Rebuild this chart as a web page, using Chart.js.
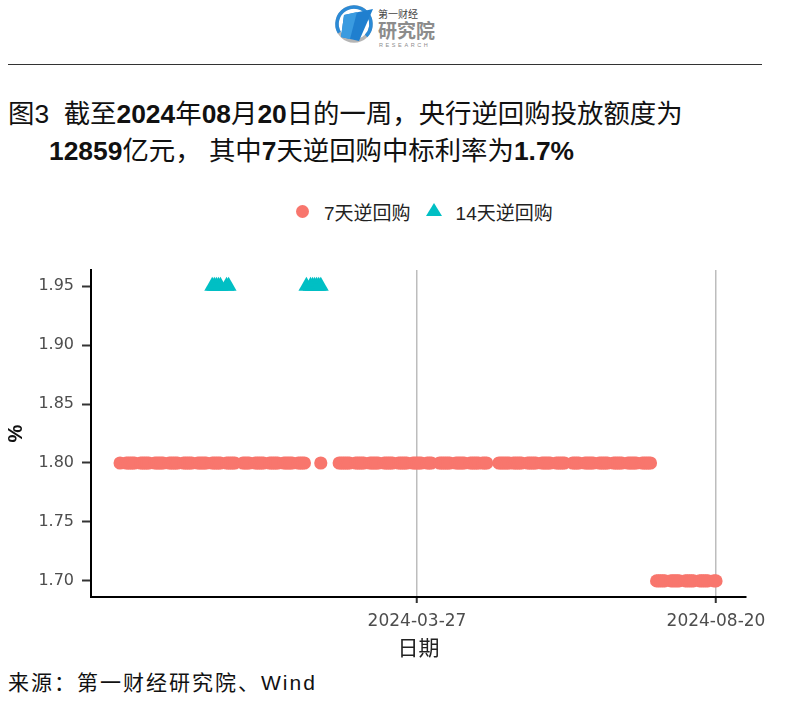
<!DOCTYPE html>
<html>
<head>
<meta charset="utf-8">
<script src="https://cdn.jsdelivr.net/npm/chart.js@4.4.1/dist/chart.umd.min.js"></script>
<style>
  html, body { margin: 0; padding: 0; background: #fff; }
  body { width: 809px; height: 704px; position: relative; overflow: hidden; }
  #logo { position: absolute; left: 330px; top: 0; }
  #rule { position: absolute; left: 8px; top: 64px; width: 754px; height: 1px; background: #333; }
  .title { position: absolute; font-family: 'Liberation Sans', 'Noto Sans CJK SC', sans-serif; font-size: 26.4px; line-height: 37px; color: #111; white-space: nowrap; }
  .title b { font-weight: bold; }
  #legend { position: absolute; left: 296px; top: 199px; height: 24px; display: flex; align-items: center;
            font-family: 'Liberation Sans', 'Noto Sans CJK SC', sans-serif; font-size: 19px; color: #222; white-space: nowrap; }
  #legend .dot { width: 13px; height: 13px; border-radius: 50%; background: #F8766D; margin-right: 15px; }
  #legend .tri { width: 0; height: 0; border-left: 8px solid transparent; border-right: 8px solid transparent;
                 border-bottom: 13px solid #00BFC4; margin: 0 14px 3px 15px; }
  #chart { position: absolute; left: 0; top: 250px; }
  #source { position: absolute; left: 8px; top: 670px; font-family: 'Liberation Sans', 'Noto Sans CJK SC', sans-serif;
            font-size: 21px; letter-spacing: 2px; line-height: 26px; color: #111; white-space: nowrap; }
</style>
</head>
<body>
<svg id="logo" width="120" height="52" viewBox="0 0 120 52">
  <circle cx="24" cy="24" r="17" fill="none" stroke="#b5b5b5" stroke-width="3.5"/>
  <circle cx="24" cy="24" r="17" fill="none" stroke="#2b8ad6" stroke-width="3.5"
          stroke-dasharray="75 32" transform="rotate(150 24 24)"/>
  <polygon points="14,15 43,9 29,41 11,37" fill="#1f7fcf"/>
  <polygon points="14,15 27,12 20,39 11,37" fill="#3a9be0"/>
  <text x="48" y="18" font-family="Noto Sans CJK SC" font-size="10" fill="#444">第一财经</text>
  <text x="48" y="38" font-family="Noto Sans CJK SC" font-size="19" font-weight="bold" fill="#8c8c8c">研究院</text>
  <text x="49" y="47" font-family="Liberation Sans" font-size="5.5" letter-spacing="2.6" fill="#8c8c8c">RESEARCH</text>
</svg>
<div id="rule"></div>
<div class="title" style="left:8px; top:96px;">图3&nbsp;&nbsp;截至<b>2024</b>年<b>08</b>月<b>20</b>日的一周，央行逆回购投放额度为</div>
<div class="title" style="left:49px; top:133px;"><b>12859</b>亿元，&nbsp;其中<b>7</b>天逆回购中标利率为<b>1.7%</b></div>
<div id="legend">
  <span class="dot"></span><span>7天逆回购</span>
  <span class="tri"></span><span>14天逆回购</span>
</div>
<canvas id="chart" width="809" height="420"></canvas>
<div id="source">来源：第一财经研究院、Wind</div>

<script>
// 7天逆回购中标利率 1.80% 的操作日
const sevenDayDates180 = [
  '2023-11-03',
  '2023-11-06', '2023-11-07', '2023-11-08', '2023-11-09', '2023-11-10',
  '2023-11-13', '2023-11-14', '2023-11-15', '2023-11-16', '2023-11-17',
  '2023-11-20', '2023-11-21', '2023-11-22', '2023-11-23', '2023-11-24',
  '2023-11-27', '2023-11-28', '2023-11-29', '2023-11-30', '2023-12-01',
  '2023-12-04', '2023-12-05', '2023-12-06', '2023-12-07', '2023-12-08',
  '2023-12-11', '2023-12-12', '2023-12-13', '2023-12-14', '2023-12-15',
  '2023-12-18', '2023-12-19', '2023-12-20', '2023-12-21', '2023-12-22',
  '2023-12-25', '2023-12-26', '2023-12-27', '2023-12-28', '2023-12-29',
  '2024-01-02', '2024-01-03', '2024-01-04', '2024-01-05',
  '2024-01-08', '2024-01-09', '2024-01-10', '2024-01-11', '2024-01-12',
  '2024-01-15', '2024-01-16', '2024-01-17', '2024-01-18', '2024-01-19',
  '2024-01-22', '2024-01-23', '2024-01-24', '2024-01-25', '2024-01-26',
  '2024-01-29', '2024-01-30', '2024-01-31', '2024-02-01',
  '2024-02-09',
  '2024-02-18', '2024-02-19', '2024-02-20', '2024-02-21', '2024-02-22', '2024-02-23',
  '2024-02-26', '2024-02-27', '2024-02-28', '2024-02-29', '2024-03-01',
  '2024-03-04', '2024-03-05', '2024-03-06', '2024-03-07', '2024-03-08',
  '2024-03-11', '2024-03-12', '2024-03-13', '2024-03-14', '2024-03-15',
  '2024-03-18', '2024-03-19', '2024-03-20', '2024-03-21', '2024-03-22',
  '2024-03-25', '2024-03-26', '2024-03-27', '2024-03-28', '2024-03-29',
  '2024-04-01', '2024-04-02', '2024-04-03',
  '2024-04-07', '2024-04-08', '2024-04-09', '2024-04-10', '2024-04-11', '2024-04-12',
  '2024-04-15', '2024-04-16', '2024-04-17', '2024-04-18', '2024-04-19',
  '2024-04-22', '2024-04-23', '2024-04-24', '2024-04-25', '2024-04-26',
  '2024-04-28', '2024-04-29', '2024-04-30',
  '2024-05-06', '2024-05-07', '2024-05-08', '2024-05-09', '2024-05-10', '2024-05-11',
  '2024-05-13', '2024-05-14', '2024-05-15', '2024-05-16', '2024-05-17',
  '2024-05-20', '2024-05-21', '2024-05-22', '2024-05-23', '2024-05-24',
  '2024-05-27', '2024-05-28', '2024-05-29', '2024-05-30', '2024-05-31',
  '2024-06-03', '2024-06-04', '2024-06-05', '2024-06-06', '2024-06-07',
  '2024-06-11', '2024-06-12', '2024-06-13', '2024-06-14',
  '2024-06-17', '2024-06-18', '2024-06-19', '2024-06-20', '2024-06-21',
  '2024-06-24', '2024-06-25', '2024-06-26', '2024-06-27', '2024-06-28',
  '2024-07-01', '2024-07-02', '2024-07-03', '2024-07-04', '2024-07-05',
  '2024-07-08', '2024-07-09', '2024-07-10', '2024-07-11', '2024-07-12',
  '2024-07-15', '2024-07-16', '2024-07-17', '2024-07-18', '2024-07-19'
];
// 7月22日降息后 1.70% 的操作日
const sevenDayDates170 = [
  '2024-07-22', '2024-07-23', '2024-07-24', '2024-07-25', '2024-07-26',
  '2024-07-29', '2024-07-30', '2024-07-31', '2024-08-01', '2024-08-02',
  '2024-08-05', '2024-08-06', '2024-08-07', '2024-08-08', '2024-08-09',
  '2024-08-12', '2024-08-13', '2024-08-14', '2024-08-15', '2024-08-16',
  '2024-08-19', '2024-08-20'
];
// 14天逆回购操作日（跨年、春节前）
const fourteenDayDates = [
  '2023-12-18', '2023-12-19', '2023-12-20', '2023-12-21', '2023-12-22', '2023-12-25', '2023-12-26',
  '2024-02-02', '2024-02-04', '2024-02-05', '2024-02-06', '2024-02-07', '2024-02-08', '2024-02-09'
];
const sevenDayRateBefore = 1.80;
const sevenDayRateAfter = 1.70;
const fourteenDayRate = 1.95;

const xTickDates = ['2024-03-27', '2024-08-20'];
const yTickValues = [1.70, 1.75, 1.80, 1.85, 1.90, 1.95];

const dayOf = s => Date.UTC(+s.slice(0, 4), +s.slice(5, 7) - 1, +s.slice(8, 10)) / 86400000;
const dateOf = d => new Date(Math.round(d) * 86400000).toISOString().slice(0, 10);

const sevenDayPoints = sevenDayDates180.map(d => ({ x: dayOf(d), y: sevenDayRateBefore }))
  .concat(sevenDayDates170.map(d => ({ x: dayOf(d), y: sevenDayRateAfter })));
const fourteenDayPoints = fourteenDayDates.map(d => ({ x: dayOf(d), y: fourteenDayRate }));

const tickFont = { family: "'DejaVu Sans', sans-serif", size: 16 };
const cjkFont = "'Noto Sans CJK SC', sans-serif";

new Chart(document.getElementById('chart').getContext('2d'), {
  type: 'scatter',
  data: {
    datasets: [
      {
        label: '7天逆回购',
        data: sevenDayPoints,
        pointStyle: 'circle',
        pointRadius: 6.6,
        pointBorderWidth: 0,
        backgroundColor: '#F8766D',
        borderColor: '#F8766D'
      },
      {
        label: '14天逆回购',
        data: fourteenDayPoints,
        pointStyle: 'triangle',
        pointRadius: 9.2,
        pointBorderWidth: 0,
        backgroundColor: '#00BFC4',
        borderColor: '#00BFC4'
      }
    ]
  },
  options: {
    responsive: false,
    animation: false,
    devicePixelRatio: 1,
    layout: { padding: { left: 0, right: 63, top: 20, bottom: 0 } },
    plugins: {
      legend: { display: false },
      tooltip: { enabled: false }
    },
    scales: {
      x: {
        type: 'linear',
        min: dayOf('2023-10-20') - 0.2,
        max: dayOf('2024-09-04') - 0.35,
        afterFit: s => { s.height = 73; },
        afterBuildTicks: s => { s.ticks = xTickDates.map(d => ({ value: dayOf(d) })); },
        ticks: {
          callback: v => dateOf(v),
          font: { family: tickFont.family, size: 17 },
          color: '#4d4d4d',
          padding: 8,
          maxRotation: 0,
          autoSkip: false
        },
        grid: { color: '#bdbdbd', lineWidth: 1.5, tickColor: '#333', tickLength: 6, tickWidth: 2 },
        border: { color: '#000', width: 2 },
        title: { display: true, text: '日期', font: { family: cjkFont, size: 21 }, color: '#222', padding: { top: 0, bottom: 10 } }
      },
      y: {
        type: 'linear',
        min: 1.6864,
        max: 1.9636,
        afterFit: s => { s.width = 91; },
        afterBuildTicks: s => { s.ticks = yTickValues.map(v => ({ value: v })); },
        ticks: { callback: v => v.toFixed(2), font: tickFont, color: '#4d4d4d', padding: 8 },
        grid: { drawOnChartArea: false, tickColor: '#333', tickLength: 9, tickWidth: 2 },
        border: { color: '#000', width: 2 },
        title: { display: true, text: '%', font: { family: "'Liberation Sans', sans-serif", size: 20, weight: 'bold' }, color: '#111', padding: { top: 4, bottom: 0 } }
      }
    }
  }
});
</script>
</body>
</html>
